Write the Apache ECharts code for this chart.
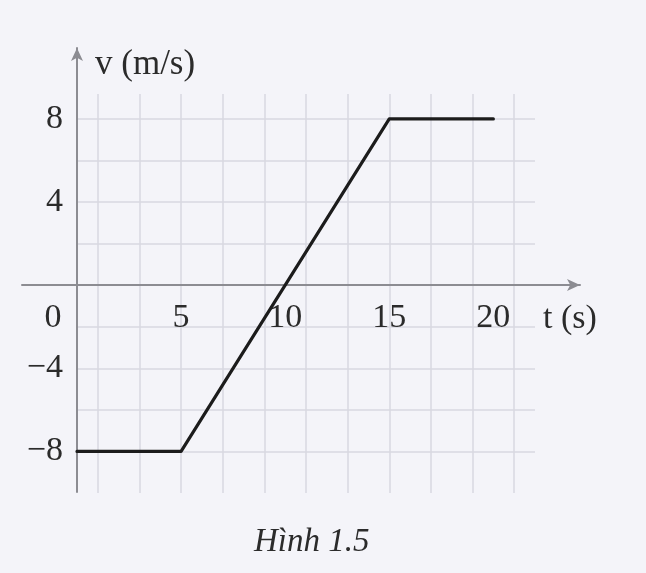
<!DOCTYPE html>
<html>
<head>
<meta charset="utf-8">
<script src="https://cdn.jsdelivr.net/npm/echarts@6/dist/echarts.min.js"></script>
<style>
html, body { margin: 0; padding: 0; background: #f4f4f9; }
#chart { width: 646px; height: 573px; }
</style>
</head>
<body>
<div id="chart"></div>
<script>
// v-t graph, Hình 1.5
const timeS = [0, 5, 15, 20];
const velocity = [-8, -8, 8, 8];
const xTickLabels = [0, 5, 10, 15, 20];
const yTickLabels = [8, 4, -4, -8];

const serif = '"Liberation Serif", "DejaVu Serif", serif';
const axisGray = '#8c8c92';
const gridGray = '#d8d8e1';
const textColor = '#2b2b2b';

const chart = echarts.init(document.getElementById('chart'));

const option = {
  backgroundColor: '#f4f4f9',
  animation: false,
  title: {
    text: 'Hình 1.5',
    left: 249,
    top: 521,
    textStyle: { fontFamily: serif, fontStyle: 'italic', fontWeight: 'normal', fontSize: 33, color: textColor }
  },
  grid: [
    // main plot area with the squared paper
    { left: 77, right: 111, top: 94, bottom: 80 },
    // long horizontal t-axis with arrow
    { left: 22, right: 66, top: 200, bottom: 288 },
    // tall vertical v-axis with arrow
    { left: 77, right: 111, top: 48, bottom: 81 }
  ],
  xAxis: [
    {
      gridIndex: 0, type: 'value', min: 0, max: 22, interval: 1,
      // labels moved up from the grid bottom (v = -10) to v = 0
      offset: -208,
      axisLine: { show: false, onZero: false },
      axisTick: { show: false },
      splitLine: { show: true, lineStyle: { color: ['rgba(0,0,0,0)', gridGray], width: 1.5 } },
      axisLabel: {
        margin: 16,
        fontFamily: serif, fontSize: 34, color: textColor,
        formatter: v => {
          if (v === 0) return '{o|0}';
          return xTickLabels.includes(v) ? String(v) : '';
        },
        rich: { o: { fontFamily: serif, fontSize: 34, color: textColor, padding: [0, 48, 0, 0] } }
      }
    },
    {
      gridIndex: 1, type: 'value', min: 0, max: 1,
      axisLine: { show: true, symbol: ['none', 'arrow'], symbolSize: [9, 13], lineStyle: { color: axisGray, width: 2 } },
      axisTick: { show: false }, axisLabel: { show: false }, splitLine: { show: false },
      name: 't (s)', nameLocation: 'end', nameGap: -37,
      nameTextStyle: { fontFamily: serif, fontSize: 34, color: textColor, align: 'left', verticalAlign: 'top', padding: [17, 0, 0, 0] }
    },
    {
      gridIndex: 2, type: 'value', min: 0, max: 1, show: false
    }
  ],
  yAxis: [
    {
      gridIndex: 0, type: 'value', min: -10, max: 9.2, interval: 2,
      axisLine: { show: false },
      axisTick: { show: false },
      splitLine: { show: true, showMaxLine: false, showMinLine: false, lineStyle: { color: gridGray, width: 1.5 } },
      axisLabel: {
        margin: 14,
        fontFamily: serif, fontSize: 34, color: textColor,
        formatter: v => yTickLabels.includes(v) ? String(v).replace('-', '\u2212') : ''
      }
    },
    {
      gridIndex: 1, type: 'value', min: 0, max: 1, show: false
    },
    {
      gridIndex: 2, type: 'value', min: 0, max: 1,
      axisLine: { show: true, symbol: ['none', 'arrow'], symbolSize: [9, 13], lineStyle: { color: axisGray, width: 2 } },
      axisTick: { show: false }, axisLabel: { show: false }, splitLine: { show: false },
      name: 'v (m/s)', nameLocation: 'end', nameGap: -17,
      nameTextStyle: { fontFamily: serif, fontSize: 35, color: textColor, align: 'left', verticalAlign: 'middle', padding: [0, 0, 0, 18] }
    }
  ],
  series: [
    {
      type: 'line',
      xAxisIndex: 0, yAxisIndex: 0,
      data: timeS.map((t, i) => [t, velocity[i]]),
      symbol: 'none',
      lineStyle: { color: '#1c1c1c', width: 3.2, join: 'round', cap: 'round' },
      z: 5
    }
  ]
};

chart.setOption(option);
</script>
</body>
</html>
